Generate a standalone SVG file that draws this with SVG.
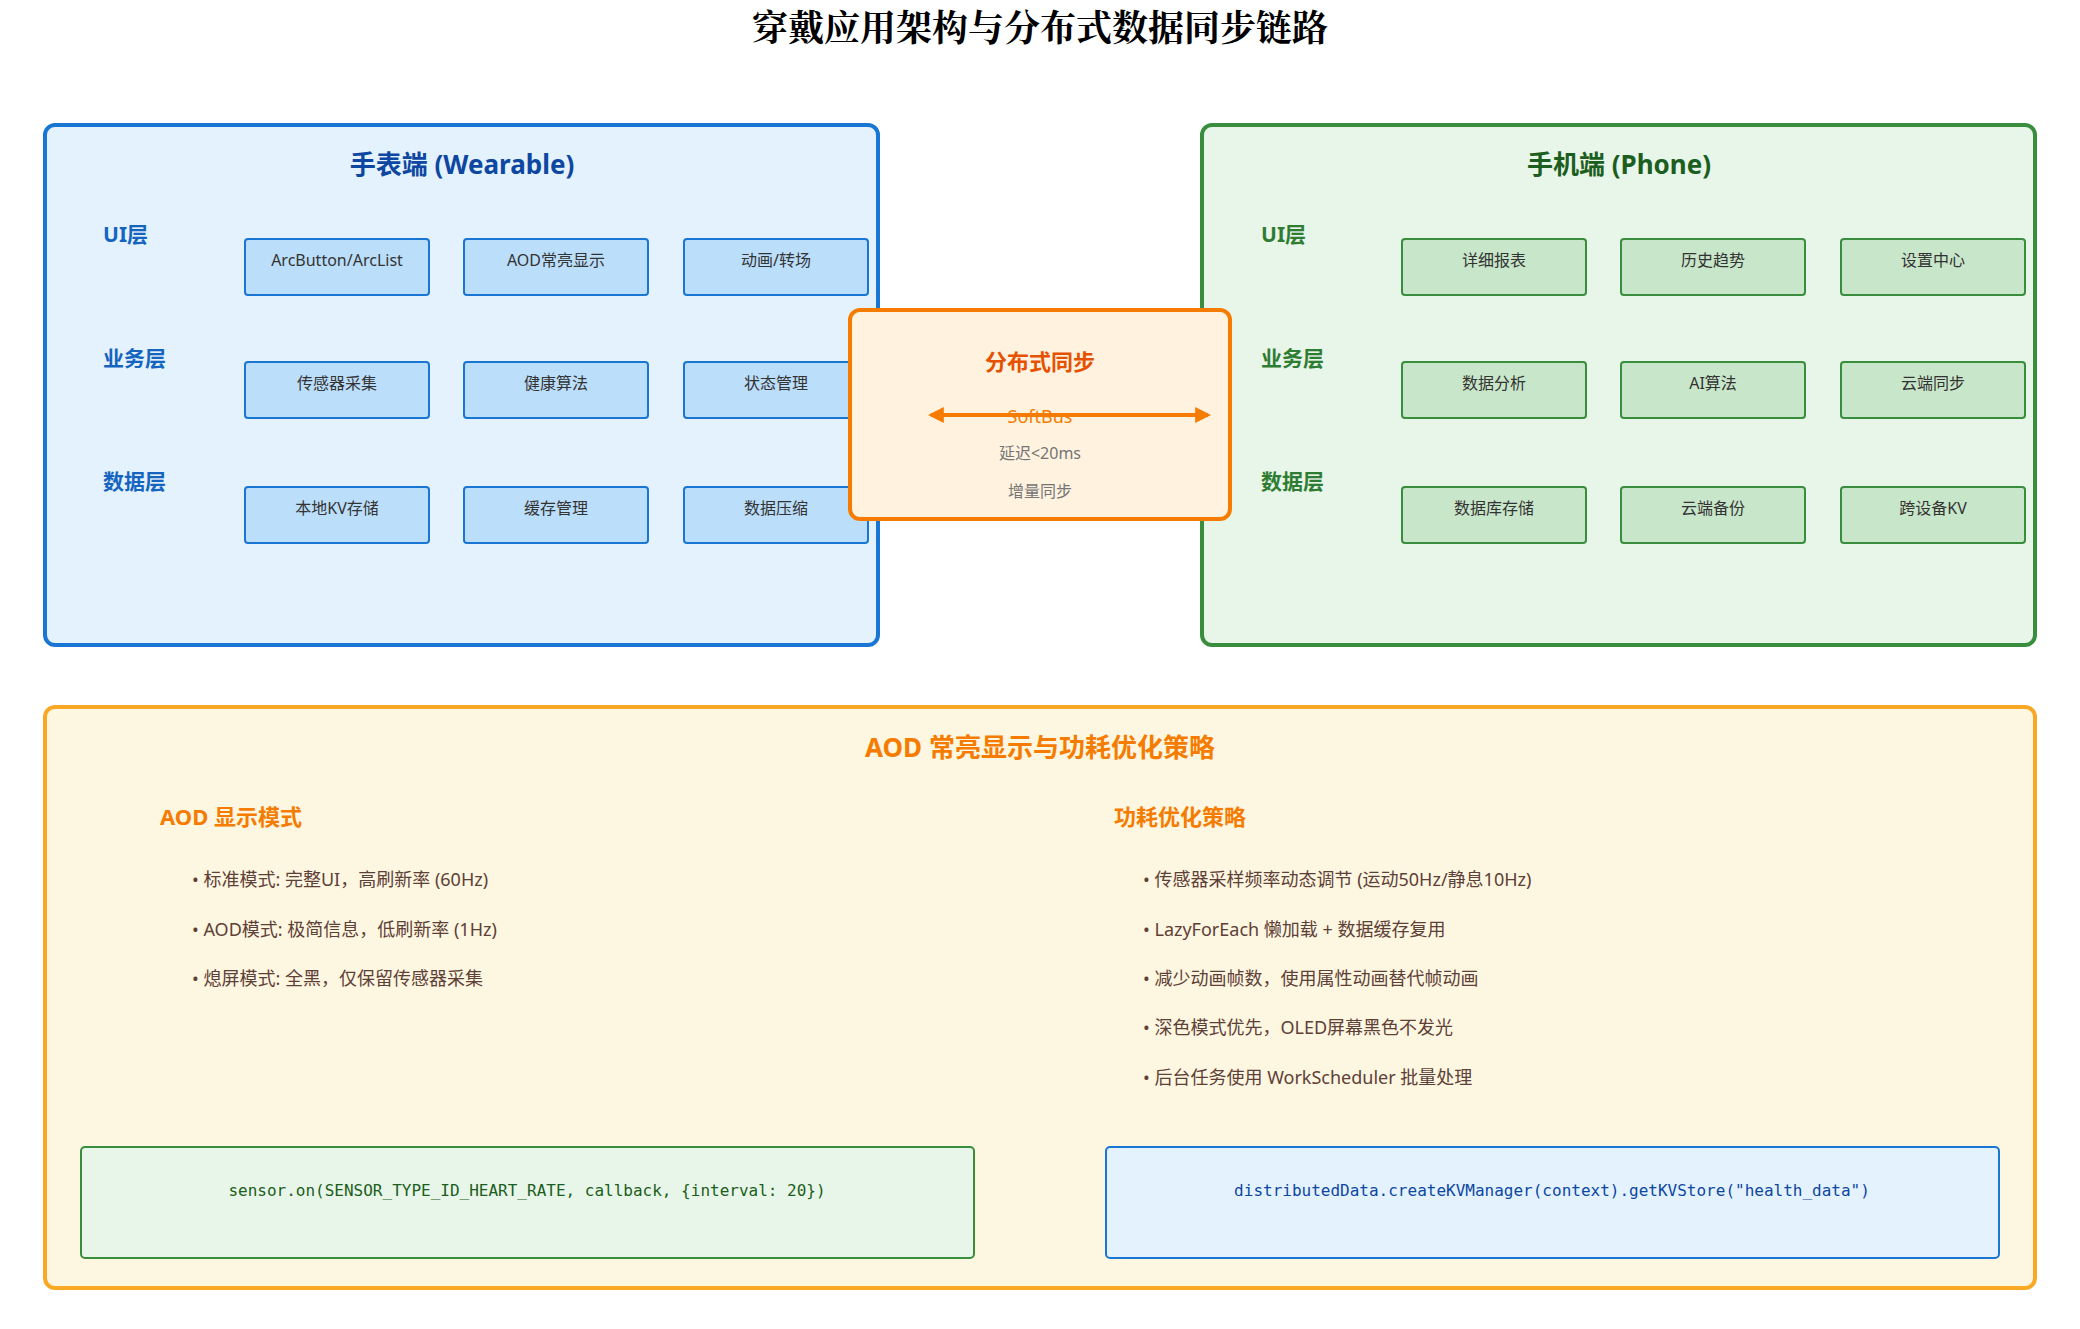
<svg xmlns="http://www.w3.org/2000/svg" width="2080" height="1329" viewBox="0 0 2080 1329">
<style>
text{font-family:"Noto Sans","Noto Sans CJK SC",sans-serif}
.lbl{font-size:21px;font-weight:bold}
.wb{fill:#BBDEFB;stroke:#1976D2;stroke-width:2}
.pb{fill:#C8E6C9;stroke:#388E3C;stroke-width:2}
.bt{font-size:16px;fill:#333;text-anchor:middle}
.li{font-size:18px;fill:#5D4037}
.code{font-family:"DejaVu Sans Mono","Liberation Mono",monospace;font-size:16px;text-anchor:middle}
</style>
<defs>
<marker id="ah" viewBox="0 0 10 10" refX="8" refY="5" markerWidth="4" markerHeight="4" orient="auto-start-reverse"><path d="M0,0L10,5L0,10z" fill="#F57C00"/></marker>
</defs>
<rect width="2080" height="1329" fill="#fff"/>
<text x="1040" y="41" text-anchor="middle" font-size="36" font-weight="bold" style="font-family:'Noto Serif CJK SC','Noto Sans CJK SC',serif">穿戴应用架构与分布式数据同步链路</text>

<g id="wearable">
<rect x="45" y="125" width="833" height="520" rx="10" fill="#E3F2FD" stroke="#1976D2" stroke-width="4"/>
<text x="462" y="174" text-anchor="middle" font-size="26" font-weight="bold" fill="#0D47A1">手表端 (Wearable)</text>
<g fill="#1565C0" class="lbl"><text x="103" y="242" class="lbl" fill="#1565C0">UI层</text><text x="103" y="366" class="lbl" fill="#1565C0">业务层</text><text x="103" y="489" class="lbl" fill="#1565C0">数据层</text></g>
<rect class="wb" x="245" y="239" width="184" height="56" rx="3"/><text class="bt" x="337" y="266">ArcButton/ArcList</text>
<rect class="wb" x="464" y="239" width="184" height="56" rx="3"/><text class="bt" x="556" y="266">AOD常亮显示</text>
<rect class="wb" x="684" y="239" width="184" height="56" rx="3"/><text class="bt" x="776" y="266">动画/转场</text>
<rect class="wb" x="245" y="362" width="184" height="56" rx="3"/><text class="bt" x="337" y="389">传感器采集</text>
<rect class="wb" x="464" y="362" width="184" height="56" rx="3"/><text class="bt" x="556" y="389">健康算法</text>
<rect class="wb" x="684" y="362" width="184" height="56" rx="3"/><text class="bt" x="776" y="389">状态管理</text>
<rect class="wb" x="245" y="487" width="184" height="56" rx="3"/><text class="bt" x="337" y="514">本地KV存储</text>
<rect class="wb" x="464" y="487" width="184" height="56" rx="3"/><text class="bt" x="556" y="514">缓存管理</text>
<rect class="wb" x="684" y="487" width="184" height="56" rx="3"/><text class="bt" x="776" y="514">数据压缩</text>
</g>

<g id="phone">
<rect x="1202" y="125" width="833" height="520" rx="10" fill="#E8F5E9" stroke="#388E3C" stroke-width="4"/>
<text x="1619" y="174" text-anchor="middle" font-size="26" font-weight="bold" fill="#1B5E20">手机端 (Phone)</text>
<text x="1261" y="242" class="lbl" fill="#2E7D32">UI层</text><text x="1261" y="366" class="lbl" fill="#2E7D32">业务层</text><text x="1261" y="489" class="lbl" fill="#2E7D32">数据层</text>
<rect class="pb" x="1402" y="239" width="184" height="56" rx="3"/><text class="bt" x="1494" y="266">详细报表</text>
<rect class="pb" x="1621" y="239" width="184" height="56" rx="3"/><text class="bt" x="1713" y="266">历史趋势</text>
<rect class="pb" x="1841" y="239" width="184" height="56" rx="3"/><text class="bt" x="1933" y="266">设置中心</text>
<rect class="pb" x="1402" y="362" width="184" height="56" rx="3"/><text class="bt" x="1494" y="389">数据分析</text>
<rect class="pb" x="1621" y="362" width="184" height="56" rx="3"/><text class="bt" x="1713" y="389">AI算法</text>
<rect class="pb" x="1841" y="362" width="184" height="56" rx="3"/><text class="bt" x="1933" y="389">云端同步</text>
<rect class="pb" x="1402" y="487" width="184" height="56" rx="3"/><text class="bt" x="1494" y="514">数据库存储</text>
<rect class="pb" x="1621" y="487" width="184" height="56" rx="3"/><text class="bt" x="1713" y="514">云端备份</text>
<rect class="pb" x="1841" y="487" width="184" height="56" rx="3"/><text class="bt" x="1933" y="514">跨设备KV</text>
</g>

<g id="sync">
<rect x="850" y="310" width="380" height="209" rx="10" fill="#FFF3E0" stroke="#F57C00" stroke-width="4"/>
<text x="1040" y="370" text-anchor="middle" font-size="22" font-weight="bold" fill="#E65100">分布式同步</text>
<text x="1040" y="423" text-anchor="middle" font-size="18" fill="#F57C00">SoftBus</text>
<text x="1040" y="459" text-anchor="middle" font-size="16" fill="#757575">延迟&lt;20ms</text>
<text x="1040" y="497" text-anchor="middle" font-size="16" fill="#757575">增量同步</text>
</g>

<g id="connectors">
<line x1="931" y1="415" x2="1208" y2="415" stroke="#F57C00" stroke-width="4" marker-start="url(#ah)" marker-end="url(#ah)"/>
</g>

<g id="aod">
<rect x="45" y="707" width="1990" height="581" rx="10" fill="#FDF6E0" stroke="#F9A825" stroke-width="4"/>
<text x="1040" y="757" text-anchor="middle" font-size="26" font-weight="bold" fill="#F57C00">AOD 常亮显示与功耗优化策略</text>
<text x="160" y="825" font-size="22" font-weight="bold" fill="#F57C00">AOD 显示模式</text>
<text x="1114" y="825" font-size="22" font-weight="bold" fill="#F57C00">功耗优化策略</text>
<text class="li" x="192" y="886">• 标准模式: 完整UI，高刷新率 (60Hz)</text>
<text class="li" x="192" y="936">• AOD模式: 极简信息，低刷新率 (1Hz)</text>
<text class="li" x="192" y="985">• 熄屏模式: 全黑，仅保留传感器采集</text>
<text class="li" x="1143" y="886">• 传感器采样频率动态调节 (运动50Hz/静息10Hz)</text>
<text class="li" x="1143" y="936">• LazyForEach 懒加载 + 数据缓存复用</text>
<text class="li" x="1143" y="985">• 减少动画帧数，使用属性动画替代帧动画</text>
<text class="li" x="1143" y="1034">• 深色模式优先，OLED屏幕黑色不发光</text>
<text class="li" x="1143" y="1084">• 后台任务使用 WorkScheduler 批量处理</text>
<rect x="81" y="1147" width="893" height="111" rx="4" fill="#E8F5E9" stroke="#388E3C" stroke-width="2"/>
<text class="code" x="527" y="1196" fill="#1B5E20">sensor.on(SENSOR_TYPE_ID_HEART_RATE, callback, {interval: 20})</text>
<rect x="1106" y="1147" width="893" height="111" rx="4" fill="#E3F2FD" stroke="#1976D2" stroke-width="2"/>
<text class="code" x="1552" y="1196" fill="#0D47A1">distributedData.createKVManager(context).getKVStore("health_data")</text>
</g>
</svg>
